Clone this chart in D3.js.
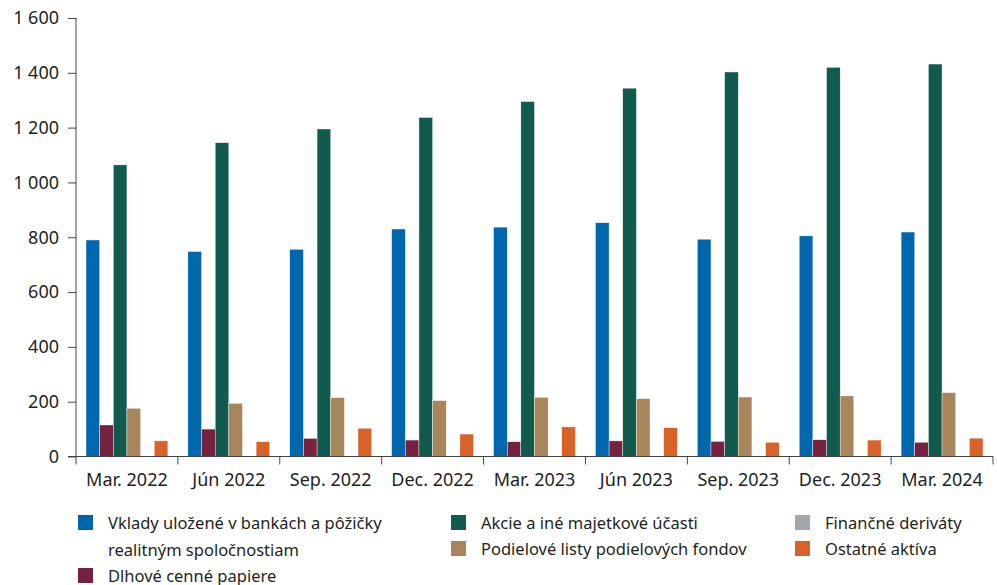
<!DOCTYPE html>
<html><head><meta charset="utf-8">
<script src="https://cdn.jsdelivr.net/npm/d3@7"></script>
<style>body{margin:0;background:#fff;} text{font-family:"Noto Sans",sans-serif;fill:#231f20;}</style>
</head><body>
<svg id="c" width="997" height="585"></svg>
<script>
const categories = ["Mar. 2022","Jún 2022","Sep. 2022","Dec. 2022","Mar. 2023","Jún 2023","Sep. 2023","Dec. 2023","Mar. 2024"];
const seriesNames = ["Vklady uložené v bankách a pôžičky realitným spoločnostiam","Dlhové cenné papiere","Akcie a iné majetkové účasti","Podielové listy podielových fondov","Finančné deriváty","Ostatné aktíva"];
const vklady    = [790, 748, 756, 830, 837, 853, 793, 805, 819];
const dlhove    = [115, 100, 66, 60, 54, 57, 55, 61, 52];
const akcie     = [1064, 1145, 1195, 1237, 1295, 1344, 1403, 1420, 1432];
const podielove = [176, 194, 215, 204, 216, 211, 217, 221, 233];
const derivaty  = [0, 0, 0, 0, 0, 0, 0, 0, 0];
const ostatne   = [57, 54, 103, 82, 108, 105, 52, 60, 67];
const yTicks = [0, 200, 400, 600, 800, 1000, 1200, 1400, 1600];
const colors = ["#0067ac","#76213f","#115b4e","#a8855b","#a2a9ad","#d7622a"];

const series = [vklady, dlhove, akcie, podielove, derivaty, ostatne];
const svg = d3.select("#c");
const mL = 76, mR = 993, mT = 18, mB = 456.5;

const x0 = d3.scaleBand().domain(categories).range([mL, mR]).padding(0);
const x1 = d3.scaleBand().domain(d3.range(series.length)).range([10, x0.bandwidth() - 10]).padding(0);
const y = d3.scaleLinear().domain([0, 1600]).range([mB, mT]);

const g = svg.append("g");
categories.forEach((c, ci) => {
  series.forEach((s, si) => {
    if (s[ci] <= 0) return;
    g.append("rect")
      .attr("x", x0(c) + x1(si))
      .attr("y", y(s[ci]))
      .attr("width", x1.bandwidth())
      .attr("height", y(0) - y(s[ci]))
      .attr("fill", colors[si])
      .attr("stroke", "#fff").attr("stroke-width", 0.4);
  });
});

// y axis
const yAxis = svg.append("g").attr("transform", `translate(${mL},0)`)
  .call(d3.axisLeft(y).tickValues(yTicks).tickSize(8).tickPadding(9)
    .tickFormat(d => d3.format(",")(d).replace(/,/g, " ")));
yAxis.selectAll("text").style("font-size", "18px").style("fill", "#231f20");
yAxis.selectAll("line,path").attr("stroke", "#444");
yAxis.select(".domain").attr("d", `M0,${mB}V${mT - 0.5}`);

// x axis
const xa = svg.append("g").attr("transform", `translate(0,${mB})`);
xa.append("line").attr("x1", mL - 8).attr("x2", mR).attr("stroke", "#444");
const bounds = categories.map(c => x0(c)).concat([mR]);
xa.selectAll(".tk").data(bounds).enter().append("line")
  .attr("x1", d => d).attr("x2", d => d).attr("y1", 0).attr("y2", 8).attr("stroke", "#444");
xa.selectAll(".lb").data(categories).enter().append("text")
  .attr("x", d => x0(d) + x0.bandwidth() / 2).attr("y", 29)
  .attr("text-anchor", "middle").style("font-size", "18px").text(d => d);

// legend
const legend = [
  {i:0, x:78, y:523, lines:["Vklady uložené v bankách a pôžičky","realitným spoločnostiam"]},
  {i:1, x:78, y:576, lines:[seriesNames[1]]},
  {i:2, x:451, y:523, lines:[seriesNames[2]]},
  {i:3, x:451, y:549, lines:[seriesNames[3]]},
  {i:4, x:795, y:523, lines:[seriesNames[4]]},
  {i:5, x:795, y:549, lines:[seriesNames[5]]}
];
const lg = svg.append("g");
legend.forEach(l => {
  lg.append("rect").attr("x", l.x).attr("y", l.y - 8).attr("width", 15).attr("height", 15).attr("fill", colors[l.i]);
  l.lines.forEach((t, k) => {
    lg.append("text").attr("x", l.x + 30).attr("y", l.y + 6 + k * 27).style("font-size", "16.5px").text(t);
  });
});
</script>
</body></html>
